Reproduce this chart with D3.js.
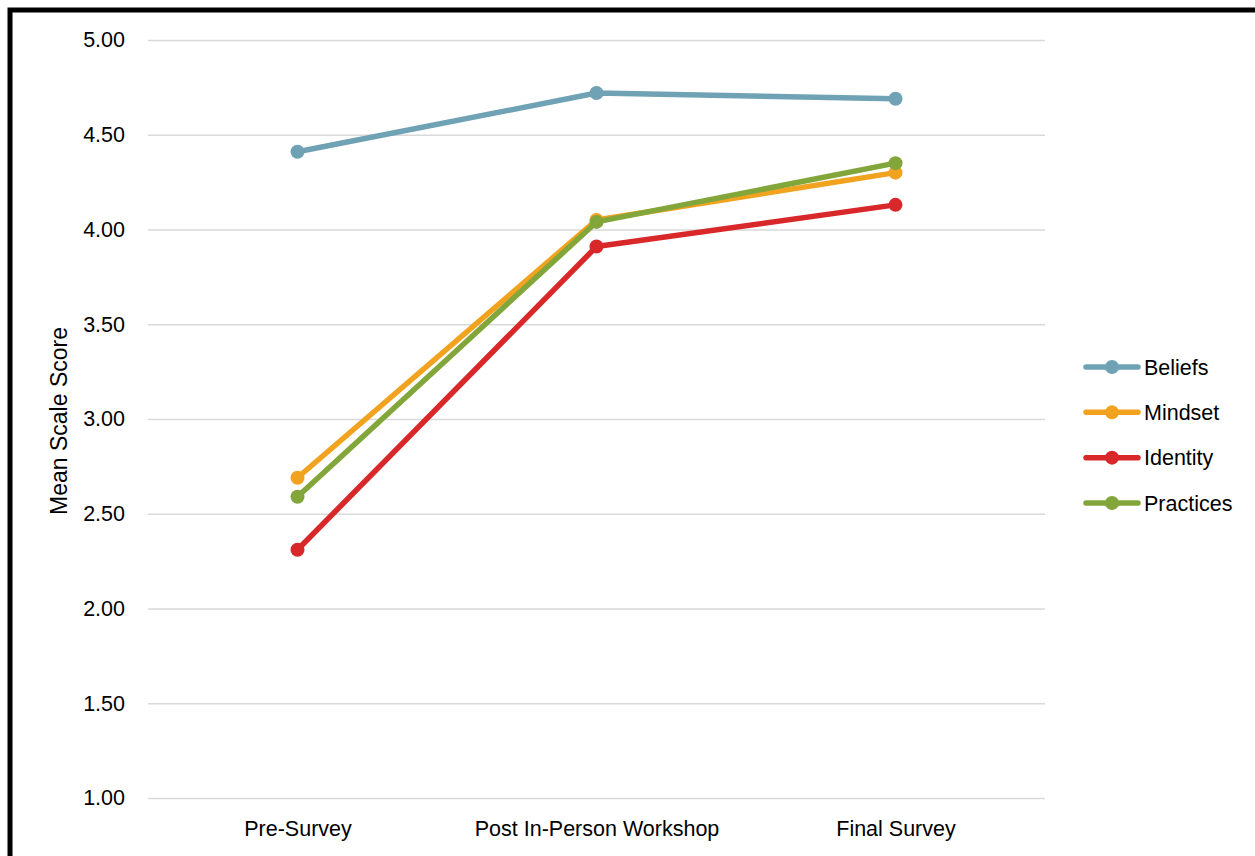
<!DOCTYPE html>
<html>
<head>
<meta charset="utf-8">
<script src="https://cdn.jsdelivr.net/npm/d3@7"></script>
<style>
  html, body { margin: 0; padding: 0; background: #fff; overflow: hidden; }
  svg { display: block; }
  text { font-family: "Liberation Sans", Arial, sans-serif; fill: #000; }
</style>
</head>
<body>
<svg id="chart" width="1255" height="856"></svg>
<script>
const categories = ["Pre-Survey", "Post In-Person Workshop", "Final Survey"];
const seriesNames = ["Beliefs", "Mindset", "Identity", "Practices"];
const beliefs   = [4.41, 4.72, 4.69];
const mindset   = [2.69, 4.05, 4.30];
const identity  = [2.31, 3.91, 4.13];
const practices = [2.59, 4.04, 4.35];
const yTicks = [1.00, 1.50, 2.00, 2.50, 3.00, 3.50, 4.00, 4.50, 5.00];
const colors = ["#6FA2B4", "#F1A31F", "#D9282A", "#83A63B"];
const yTitle = "Mean Scale Score";

const series = [beliefs, mindset, identity, practices].map((vals, i) => ({
  name: seriesNames[i], color: colors[i],
  values: vals.map((v, j) => ({ cat: categories[j], v }))
}));

const svg = d3.select("#chart");
const plotL = 148, plotR = 1045, plotT = 40, plotB = 798;

// border
svg.append("rect").attr("x", 10).attr("y", 10).attr("width", 1300).attr("height", 900)
  .attr("fill", "none").attr("stroke", "#000").attr("stroke-width", 5);

const x = d3.scalePoint().domain(categories).range([plotL, plotR]).padding(0.5);
const y = d3.scaleLinear().domain([1, 5]).range([plotB, plotT]);

// y axis with gridlines
const yAxis = svg.append("g").attr("transform", `translate(${plotL},0)`)
  .call(d3.axisLeft(y).tickValues(yTicks).tickFormat(d3.format(".2f"))
    .tickSize(-(plotR - plotL)).tickPadding(23));
yAxis.select(".domain").remove();
yAxis.selectAll(".tick line").attr("stroke", "#D9D9D9").attr("stroke-width", 1.5);
yAxis.selectAll(".tick text").style("font-size", "21.5px").attr("fill", "#000");

// x axis labels
const xAxis = svg.append("g").attr("transform", `translate(0,${plotB})`)
  .call(d3.axisBottom(x).tickSize(0).tickPadding(23));
xAxis.select(".domain").remove();
xAxis.selectAll(".tick text").style("font-size", "21.5px").attr("fill", "#000");

// y title
svg.append("text").attr("transform", `translate(67,${(plotT + plotB) / 2 + 2}) rotate(-90)`)
  .attr("text-anchor", "middle").style("font-size", "23px").text(yTitle);

// lines
const line = d3.line().x(d => x(d.cat)).y(d => y(d.v));
const g = svg.append("g");
series.forEach(s => {
  g.append("path").datum(s.values).attr("d", line).attr("fill", "none")
    .attr("stroke", s.color).attr("stroke-width", 5.5).attr("stroke-linejoin", "round").attr("stroke-linecap", "round");
  g.selectAll(null).data(s.values).enter().append("circle")
    .attr("cx", d => x(d.cat)).attr("cy", d => y(d.v)).attr("r", 7).attr("fill", s.color);
});

// legend
const legY = d3.scalePoint().domain(seriesNames).range([367, 503]);
const leg = svg.append("g");
series.forEach(s => {
  const yy = legY(s.name);
  leg.append("line").attr("x1", 1086).attr("x2", 1138).attr("y1", yy).attr("y2", yy)
    .attr("stroke", s.color).attr("stroke-width", 5.5).attr("stroke-linecap", "round");
  leg.append("circle").attr("cx", 1112).attr("cy", yy).attr("r", 7).attr("fill", s.color);
  leg.append("text").attr("x", 1144).attr("y", yy).attr("dy", "0.35em")
    .style("font-size", "21.5px").text(s.name);
});
</script>
</body>
</html>
